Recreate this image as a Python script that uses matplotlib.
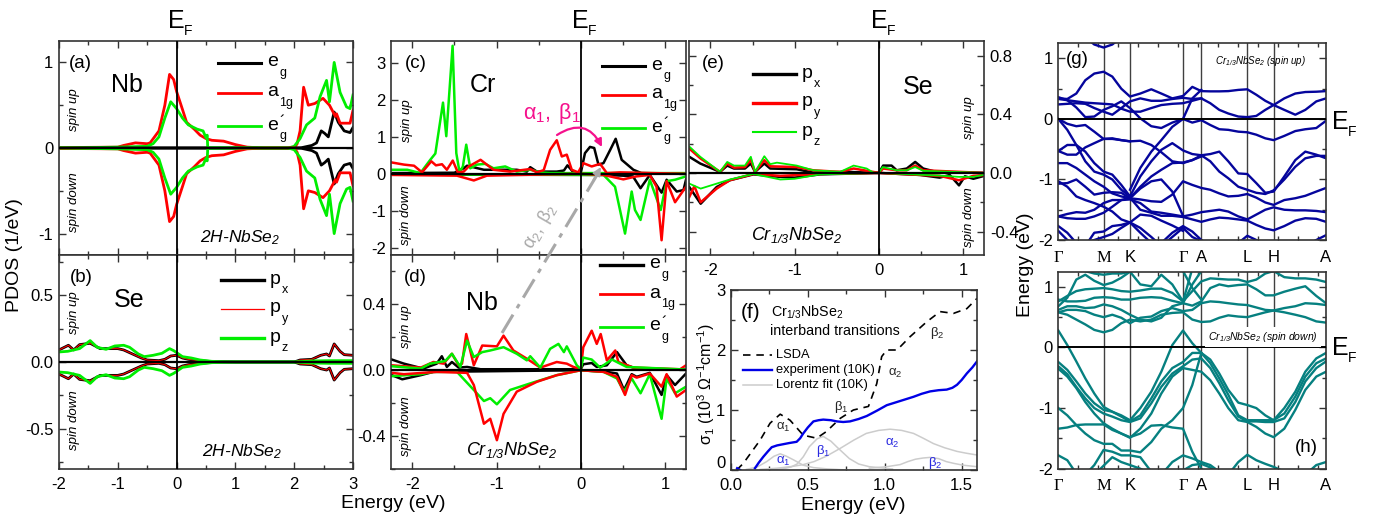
# -*- coding: utf-8 -*-
import matplotlib
matplotlib.use('Agg')
import matplotlib.pyplot as plt
from matplotlib.ticker import MultipleLocator, FixedLocator

plt.rcParams['font.family'] = ['Liberation Sans', 'DejaVu Sans']
plt.rcParams['mathtext.default'] = 'regular'
plt.rcParams['axes.unicode_minus'] = False
plt.rcParams['lines.solid_joinstyle'] = 'round'

W, H = 1374, 517
nan = float('nan')

# panel (a), 2H-NbSe2 Nb d states, spin down is the mirror of spin up
a_red_x = [-2, -1, -.9, -.7, -.5, -.45, -.3, -.2, -.12, -.05, 0, .1, .17, .3, .4, .5, .6, .8, 1, 1.2, 1.5, 2, 2.05, 2.1, 2.16, 2.24, 2.35, 2.49, 2.6, 2.7, 2.72, 2.78, 2.95, 3]
a_red_y = [.005, .01, .03, .06, .05, .06, .2, .5, .86, .8, .66, .45, .3, .22, .15, .11, .09, .08, .04, .01, 0, 0, .05, .2, .71, .5, .52, .58, .5, .37, .4, .29, .29, .44]
a_green_x = [-2, -1, -.5, -.4, -.3, -.2, -.1, 0, .1, .2, .35, .45, .5, .52, .53, 1, 1.9, 2, 2.1, 2.21, 2.35, 2.44, 2.55, 2.6, 2.68, 2.78, 2.89, 2.95, 3]
a_green_y = [0, .01, .02, .05, .13, .35, .54, .46, .35, .27, .22, .2, .12, .15, 0, 0, 0, .02, .11, .27, .35, .6, .79, .54, 1, .65, .48, .46, .62]
a_black_x = [-2, 2, 2.1, 2.3, 2.38, 2.46, 2.52, 2.58, 2.68, 2.75, 2.85, 2.95, 3]
a_black_y = [0, 0, 0, .03, .06, .2, .17, .13, .42, .3, .2, .18, .24]

# panel (b), 2H-NbSe2 Se p states
b_px_x = [-2, -1.84, -1.75, -1.65, -1.47, -1.3, -1.15, -1, -.9, -.75, -.6, -.5, -.3, -.2, -.1, 0, .1, .2, .4, .6, 1, 2, 2.1, 2.3, 2.45, 2.55, 2.6, 2.68, 2.78, 2.85, 3]
b_px_y = [.09, .125, .09, .13, .14, .1, .1, .1, .09, .06, .03, .015, .01, .02, .045, .05, .03, .02, .01, .003, 0, 0, .015, .02, .05, .06, .045, .135, .08, .055, .05]
b_pz_x = [-2, -1.85, -1.65, -1.47, -1.35, -1.2, -1.05, -.9, -.8, -.65, -.55, -.4, -.25, -.12, -.05, 0, .1, .25, .4, .6, 1, 2, 2.3, 2.6, 3]
b_pz_y = [.075, .08, .1, .16, .11, .095, .12, .125, .11, .06, .04, .05, .065, .1, .085, .07, .04, .03, .015, .005, 0, 0, .008, .01, .01]

# panel (c), Cr d states
c_up_green_x = [-2.25, -2.06, -1.905, -1.787, -1.727, -1.636, -1.597, -1.522, -1.478, -1.439, -1.4, -1.36, -1.312, -1.233, -1.134, -1.036, -.897, -.759, -.6, -.482, -.364, 0, 1.25]
c_up_green_y = [.11, .11, .02, .38, .55, 1.93, 1.02, 3.47, .56, .04, .2, .79, .15, .25, .27, .15, .2, .06, .11, .04, .02, .02, .02]
c_up_red_x = [-2.25, -2.1, -1.98, -1.885, -1.775, -1.72, -1.648, -1.59, -1.52, -1.46, -1.39, -1.33, -1.19, -1.036, -.84, -.6, -.52, -.44, -.364, -.285, -.225, -.166, -.107, -.03, .03, .13, .23, .31, .466, 1.25]
c_up_red_y = [.31, .25, .22, .04, .34, .23, .26, .11, .36, .04, .06, .2, .38, .11, .06, .13, .04, .1, .65, .91, .47, .52, .11, .04, .29, .2, .27, .02, .04, 0]
c_up_black_x = [-2.25, -1.5, -1.39, -1.35, -1.15, -.76, -.64, -.6, -.52, -.285, -.2, -.158, -.087, 0, .05, .11, .16, .21, .27, .35, .415, .486, .625, .72, 1.25]
c_up_black_y = [.02, .03, .15, .22, .11, .11, .06, .18, .06, .06, .09, .23, .04, .02, .56, .73, .7, .25, .29, .65, .95, .38, .11, .02, 0]
c_dn_black_x = [-2.25, .27, .5, .62, .71, .82, .96, 1.02, 1.14, 1.22, 1.25]
c_dn_black_y = [-.02, -.03, -.05, -.07, -.39, -.03, -.51, -.16, -.48, -.44, -.16]
c_dn_green_x = [-2.25, .27, .407, .526, .605, .644, .71, .82, .95, 1.02, 1.12, 1.25]
c_dn_green_y = [-.01, -.03, -.35, -1.62, -.48, -.98, -1.25, -.16, -.98, -.2, -.16, -.07]
c_dn_red_x = [-2.25, -1.47, -1.27, -1.115, -.5, 0, .27, .506, .66, .82, .9, .96, 1.02, 1.12, 1.25]
c_dn_red_y = [-.03, -.05, -.18, -.05, -.02, 0, -.03, -.15, -.07, -.03, -.35, -1.8, -.2, -.77, -.35]

# panel (d), Nb d states in Cr1/3NbSe2
d_up_black_x = [-2.245, -2.1, -1.87, -1.71, -1.65, -1.59, -1.53, -1.45, -1.35, -1.19, 0, .03, .13, .19, .31, .43, .545, .66, 1.25]
d_up_black_y = [.065, .04, .01, .04, .085, .02, .05, .016, .02, .006, .006, .036, .044, .02, .03, .11, .03, .01, .004]
d_up_red_x = [-2.245, -1.9, -1.75, -1.63, -1.53, -1.45, -1.41, -1.36, -1.27, -1.17, -.996, -.917, -.8, -.64, -.48, -.285, -.166, -.087, 0, .03, .13, .19, .237, .31, .41, .447, .625, 1.18, 1.25]
d_up_red_y = [.03, .016, .05, .04, .1, .03, .04, .22, .03, .15, .145, .21, .12, .07, .016, .05, .04, .02, .006, .14, .24, .16, .22, .06, .12, .05, .016, .006, .03]
d_up_green_x = [-2.245, -1.9, -1.79, -1.61, -1.53, -1.43, -1.35, -1.27, -1.17, -1.075, -.917, -.76, -.64, -.6, -.48, -.364, -.265, -.2, -.166, -.047, 0, .03, .13, .23, .37, .545, 1.25]
d_up_green_y = [.024, .01, .04, .056, .1, .02, .18, .08, .11, .12, .14, .1, .06, .085, .016, .13, .16, .11, .145, .03, .006, .077, .065, .016, .065, .02, .004]
d_dn_black_x = [-2.245, -2.12, -1.9, -1.75, 0, .31, .43, .514, .605, .664, .82, .96, 1.02, 1.12, 1.25]
d_dn_black_y = [-.03, -.055, -.03, -.01, 0, -.01, -.02, -.12, -.024, -.04, -.016, -.15, -.03, -.09, -.02]
d_dn_green_x = [-2.245, -1.9, -1.75, -1.47, -1.27, -1.15, -1.075, -.996, -.84, -.6, -.285, 0, .27, .43, .514, .605, .71, .82, .96, 1.02, 1.12, 1.25]
d_dn_green_y = [-.036, -.024, -.01, -.01, -.12, -.187, -.17, -.207, -.12, -.08, -.03, 0, -.01, -.05, -.13, -.05, -.14, -.024, -.295, -.05, -.14, -.1]
d_dn_red_x = [-2.245, -2.1, -1.71, -1.35, -1.27, -1.15, -1.075, -.996, -.917, -.76, -.52, -.285, 0, .27, .43, .526, .605, .664, .82, .96, 1.02, 1.14, 1.25]
d_dn_red_y = [-.016, -.024, -.01, -.016, -.09, -.325, -.295, -.425, -.265, -.13, -.07, -.03, 0, -.01, -.04, -.15, -.03, -.045, -.02, -.1, -.024, -.16, -.12]

# panel (e), Se p states in Cr1/3NbSe2
e_up_px_x = [-2.25, -2.12, -1.885, -1.8, -1.72, -1.59, -1.52, -1.47, -1.36, -1.29, -.976, -.78, -.38, 0, .05, .15, .21, .33, .43, .525, .68, 1.25]
e_up_px_y = [.11, .064, .007, .05, .03, .03, .064, .007, .064, .03, .025, .002, .007, 0, .05, .05, .018, .03, .075, .03, .007, 0]
e_up_py_x = [-2.25, -2.12, -1.885, -1.8, -1.72, -1.59, -1.52, -1.47, -1.36, -1.29, -.976, -.78, -.46, -.3, 0, .05, .21, .33, .43, .525, 1.25]
e_up_py_y = [.166, .1, .007, .064, .036, .04, .09, .007, .087, .045, .04, .018, .007, .03, 0, .03, .018, .018, .05, .018, 0]
e_up_pz_x = [-2.25, -2.12, -1.885, -1.8, -1.72, -1.59, -1.52, -1.47, -1.36, -1.29, -1.21, -.976, -.78, -.46, -.3, -.146, -.067, 0, .045, .21, .33, .43, .525, 1.25]
e_up_pz_y = [.18, .11, .007, .075, .05, .05, .11, .007, .114, .06, .07, .05, .018, .007, .05, .03, .002, 0, .04, .018, .018, .04, .014, 0]
e_dn_px_x = [-2.25, -2.115, -1.925, -1.77, -1.49, -1.17, -1, -.7, 0, .49, .72, .84, .95, 1.02, 1.12, 1.25]
e_dn_px_y = [-.096, -.21, -.096, -.05, -.01, -.027, -.032, -.01, 0, -.014, -.032, -.014, -.085, -.023, -.04, -.02]
e_dn_py_x = [-2.25, -2.19, -2.115, -1.925, -1.77, -1.49, -1.17, -.7, 0, .72, .95, 1.12, 1.25]
e_dn_py_y = [-.164, -.09, -.2, -.107, -.05, -.007, -.02, -.007, 0, -.02, -.05, -.02, -.015]
e_dn_pz_x = [-2.25, -2.115, -1.925, -1.77, -1.49, -1.17, -1, -.7, 0, .72, .95, 1.12, 1.25]
e_dn_pz_y = [-.073, -.107, -.073, -.045, -.007, -.045, -.04, -.01, 0, -.018, -.027, -.027, -.012]

# panel (f), optical conductivity
f_lsda_x = [.037, .08, .19, .254, .32, .384, .47, .557, .62, .71, .796, .894, .948, .98, 1.013, 1.08, 1.164, 1.273, 1.36, 1.447, 1.534, 1.6]
f_lsda_y = [0, .11, .5, .78, .93, .83, .58, .53, .64, .86, 1, 1.06, 1.44, 1.89, 2, 2, 2.22, 2.47, 2.64, 2.61, 2.69, 2.86]
f_exp_x = [.04, .06, nan, .156, .18, .21, .24, .265, .3, .34, .38, .427, .45, .47, .5, .536, .57, .6, .65, .688, .73, .774, .83, .883, .95, 1.013, 1.1, 1.187, 1.24, 1.295, 1.35, 1.403, 1.44, 1.47, 1.5, 1.534, 1.57, 1.6]
f_exp_y = [.03, 0, nan, .03, .12, .22, .31, .38, .41, .43, .45, .47, .53, .61, .71, .81, .83, .84, .83, .81, .8, .81, .85, .9, .99, 1.08, 1.15, 1.22, 1.27, 1.31, 1.33, 1.34, 1.37, 1.42, 1.5, 1.61, 1.71, 1.81]
f_lor1_x = [.1, .17, .232, .28, .32, .36, .406, .47, .536, .62, .75]
f_lor1_y = [.01, .05, .14, .23, .27, .23, .17, .08, .04, .02, 0]
f_lor2_x = [.25, .34, .39, .43, .47, .51, .56, .6, .65, .69, .77, .83, .9, 1.05]
f_lor2_y = [.005, .02, .05, .1, .22, .39, .52, .56, .48, .38, .19, .1, .055, .016]
f_lor3_x = [.19, .3, .4, .47, .54, .62, .71, .8, .88, .96, 1.035, 1.11, 1.187, 1.25, 1.317, 1.39, 1.47, 1.53, 1.6]
f_lor3_y = [.01, .03, .06, .09, .14, .23, .36, .5, .61, .66, .68, .66, .61, .53, .44, .37, .31, .28, .25]
f_lor4_x = [.9, 1.013, 1.1, 1.15, 1.2, 1.25, 1.295, 1.35, 1.4, 1.45, 1.51, 1.6]
f_lor4_y = [.03, .055, .09, .14, .18, .2, .21, .19, .14, .11, .08, .055]

# band structure: k path in plotted units, energies in eV on the same grid
k_ticks = [0, .453, .717, 1.247, 1.43, 1.89, 2.153, 2.677]
k_names = ['Γ', 'M', 'K', 'Γ', 'A', 'L', 'H', 'A']
k_grid = [0, .09, .18, .27, .36, .453, .54, .63, .717, .82, .93, 1.03, 1.14, 1.247, 1.34, 1.43,
          1.52, 1.61, 1.7, 1.8, 1.89, 1.98, 2.07, 2.153, 2.26, 2.37, 2.47, 2.58, 2.677]

bands_up = [
    [nan, nan, nan, 1.35, 1.23, 1.18, 1.23, 1.35],
    [.34, .33, .42, .64, .75, .78, .7, .5, .37, .42, .49, .42, .34, .38, .53, .46, .456, .456, .46, .48, .49, .4, .3, .23, .34, .42, .445, .45, .46],
    [.33, .31, .29, .27, .26, .25, .24, .17, .12, .12, .18, .23, .25, .26, .3, .34, .26, .15, .09, .04, .03, .05, .15, .23, .15, .07, .15, .29, .34],
    [.24, .25, .26, .25, .18, .12, .07, .18, .29, .34, .3, .3, .33, .35, .33, .34],
    [.36, .31, .19, .03, .04, .15, .21, .29, .18, .01, -.12, -.15, -.06, 0, -.06, -.02, -.1, -.17, -.18, -.21, -.22, -.26, -.32, -.35, -.28, -.2, -.17, -.15, -.03],
    [0, -.08, -.12, -.1, -.21, -.33, -.32, -.35, -.37, -.36, -.43, -.55, -.7, -.73, -.68, -.6, -.58, -.54, -.7, -.9, -.91, -1.06, -1.22, -1.2, -.95, -.68, -.54, -.59, -.65],
    [-.53, -.59, -.59, -.47, -.4, -.33, -.33, -.35, -.37],
    [0, -.18, -.43, -.7, -.87, -.92, -1, -1.17, -1.28, -.95, -.7, -.51, -.4, -.52, -.58, -.6, -.7, -.87, -.98, -1.12, -1.17, -1.22, -1.24, -1.18, -1, -.79, -.65, -.61, -.61],
    [nan, nan, nan, nan, nan, nan, nan, nan, -1.17, -.81, -.54, -.35, -.13, 0, .34, .48],
    [-.53, -.43, -.43, -.54, -.73, -.87, -.92, -1.09, -1.28],
    [-.73, -.73, -.81, -.92, -1.03, -1.12, -1.23, -1.28, -1.31, -1.12, -.95, -.84, -.73, -.72, -.68, -.62],
    [-1.03, -1.12, -1.28, -1.34, -1.39, -1.45, -1.53, -1.66, -1.71, -1.58, -1.6, -1.68, -1.76, -1.85],
    [-1.07, -1.06, -1, -1.12, -1.25, -1.22, -1.21, -1.22, -1.31, -1.33, -1.36, -1.37, -1.25, -1.03, -1.09, -1.14, -1.17, -1.23, -1.28, -1.27, -1.24, -1.3, -1.38, -1.42, -1.34, -1.31, -1.27, -1.2, -1.14],
    [nan, nan, nan, nan, nan, nan, nan, nan, -1.31, -1.15, -1.03, -1, -1.2, -1.6],
    [-1.61, -1.57, -1.54, -1.55, -1.5, -1.39, -1.34, -1.34, -1.33, -1.39, -1.53, -1.55, -1.58, -1.61, -1.58, -1.54, -1.52, -1.5, -1.53, -1.61, -1.66, -1.58, -1.5, -1.46, -1.5, -1.51, -1.51, -1.52, -1.54],
    [-1.61, -1.64, -1.65, -1.65, -1.61, -1.55, -1.45, -1.34, -1.3, -1.5, -1.55, -1.6, -1.6, -1.62, -1.66, -1.7, -1.66, -1.63, -1.64, -1.66, -1.68, -1.75, -1.81, -1.84, -1.77, -1.68, -1.64, -1.65, -1.7],
    [-1.77, -1.88, -2.05, -2.1, -1.88, -1.86, -1.77, -1.75, -1.71, -1.88, -2.05, -2.05, -1.88, -1.77, -1.86, -2, -2.1, -2.1, -2.1, -2.05, -1.93, -2, -2.1, -2.1, -2.1, -2.1, -2.1, -2, -1.92],
    [-1.85, -2, -2.1, -2.05, -2, -1.95, -1.9, -1.8, -1.71, -1.8, -1.95, -2.1, -1.95, -1.8, -1.95, -2.02],
]

bands_dn = [
    [.58, .54, .46, .38, .29, .25, .29, .4, .46, .43, .46, .54, .57, .58, .46, .42, .43, .49, .53, .51, .5, .54, .58, .61, .58, .54, .5, .43, .41],
    [.58, .62, .62, .6, .54, .5, .54, .49, .4, .49, .51, .6, .65, .6, .62, .73, .76, .75, .73, .71, .7, .66, .62, .61, .65, .68, .73, .72, .7],
    [.62, .68, .68, .65, .66, .71, .68, .62, .54, .46, .43, .49, .68, .73, .69, .76, .98, 1.04, 1.01, 1.03, 1.04, .96, .86, .86, .92, .97, 1.01, .85, .73],
    [.76, .85, .93, .96, .97, .98, .96, .93, .92, .94, .97, .97, .9, .76, .93, 1.09, 1.14, 1.13, 1.12, 1.12, 1.08, 1.12, 1.22, 1.26, 1.16, 1.14, 1.14, 1.12, 1.08],
    [.79, .76, .76, .77, .82, .83, .82, .79, .79, .82, .83, .82, .77, .73, 1.04, 1.26],
    [.68, .82, 1.12, 1.2, 1.1, 1.03, 1.07, 1.15, 1.25, 1.04, 1.01, 1.2, 1.04, .76, 1.3],
    [nan, nan, 1.3, 1.26, 1.22, 1.2, 1.22, 1.22, 1.25],
    [nan, nan, nan, nan, nan, nan, nan, nan, nan, nan, nan, nan, nan, 1.26, .98, .79],
    [.28, .04, -.23, -.51, -.76, -.98, -1.06, -1.12, -1.2, -1, -.73, -.4, .04, .28, .07, -.09, -.2, -.43, -.7, -.91, -.95, -1, -1.12, -1.2, -1, -.73, -.4, -.18, -.09],
    [-.24, -.37, -.56, -.76, -.92, -1.03, -1.06, -1.14, -1.22, -1.12, -.84, -.56, -.34, -.24, -.09, -.09, -.26, -.51, -.78, -1.12, -1.2, -1.2, -1.2, -1.2, -1.09, -.81, -.48, -.26, -.18],
    [-.31, -.44, -.65, -.84, -1, -1.09, -1.14, -1.2, -1.23, -1.17, -.92, -.65, -.43, -.31, -.2, -.18, -.34, -.59, -.87, -1.14, -1.22, -1.22, -1.23, -1.23, -1.17, -.9, -.56, -.34, -.23],
    [-.35, -.48, -.67, -.9, -1.09, -1.25, -1.34, -1.42, -1.49, -1.34, -1.09, -.76, -.48, -.34, -.37, -.4, -.54, -.76, -1, -1.2, -1.23, -1.31, -1.42, -1.48, -1.34, -1.03, -.7, -.48, -.4],
    [-1.34, -1.32, -1.28, -1.27, -1.27, -1.27, -1.36, -1.42, -1.48, -1.42, -1.29, -1.28, -1.32, -1.34, -1.72, -2],
    [-1, -1.12, -1.28, -1.42, -1.53, -1.59, -1.59, -1.7, -1.7, -1.73, -1.56, -1.34, -1.2, -1, -.62, -.09],
    [-1.78, -1.86, -2.08, -2.1, -1.94, -1.69, -1.72, -1.78, -1.78, -1.81, -2.05, -2.1, -1.89, -1.78, -1.83, -1.89, -1.94, -2.05, -2.1, -1.89, -1.77, -1.86, -1.92, -1.97, -2.05, -2.1, -2.1, -1.94, -1.89],
    [nan, nan, nan, nan, -2.1, -1.95, -1.81, -1.89, -1.94, -2, -2.1, -2.1, -2.05, -2.03, -1.94, -1.92, -1.98, -2.1],
]

BLACK, RED, GREEN = 'black', '#ff0000', '#00ee00'


def new_ax(left, top, right, bottom):
    return fig.add_axes([left / W, 1 - bottom / H, (right - left) / W, (bottom - top) / H])


def style(ax, xlim, ylim, xmaj, xmin, ymaj, ymin=None):
    ax.set_xlim(xlim)
    ax.set_ylim(ylim)
    ax.xaxis.set_major_locator(MultipleLocator(xmaj))
    ax.xaxis.set_minor_locator(MultipleLocator(xmin))
    ax.yaxis.set_major_locator(FixedLocator(ymaj))
    if ymin is not None:
        ax.yaxis.set_minor_locator(MultipleLocator(ymin))
    ax.tick_params(which='both', direction='in', top=True, right=True, color='0.2', width=1, labelsize=12, pad=4)
    ax.tick_params(axis='x', which='major', pad=6)
    ax.tick_params(which='major', length=5)
    ax.tick_params(which='minor', length=3)
    for sp in ax.spines.values():
        sp.set_linewidth(1.2)
        sp.set_color('0.2')


def ef_lines(ax):
    ax.axvline(0, color='black', lw=1.3, zorder=6)
    ax.axhline(0, color='black', lw=1.6, zorder=6)


fig = plt.figure(figsize=(W / 100, H / 100), dpi=100)

# (a)
ax_a = new_ax(59, 41, 353, 255)
style(ax_a, (-2, 3), (-1.25, 1.25), 1, .5, [-1, 0, 1], .5)
ax_a.set_xticklabels([])
ax_a.set_yticklabels(['-1', '0', '1'])
for s in (1, -1):
    ax_a.plot(a_black_x, [s * v for v in a_black_y], color=BLACK, lw=2)
    ax_a.plot(a_red_x, [s * v for v in a_red_y], color=RED, lw=2)
    ax_a.plot(a_green_x, [s * v for v in a_green_y], color=GREEN, lw=2)
ef_lines(ax_a)

# (b)
ax_b = new_ax(59, 255, 353, 469)
style(ax_b, (-2, 3), (-.8, .8), 1, .5, [-.5, 0, .5], .25)
ax_b.set_yticklabels(['-0.5', '0.0', '0.5'])
for s in (1, -1):
    ax_b.plot(b_px_x, [s * v for v in b_px_y], color=BLACK, lw=2)
    ax_b.plot(b_px_x, [s * v for v in b_px_y], color=RED, lw=.8)
    ax_b.plot(b_pz_x, [s * v for v in b_pz_y], color=GREEN, lw=2)
ef_lines(ax_b)

# (c)
ax_c = new_ax(391.3, 41, 686, 255)
style(ax_c, (-2.25, 1.25), (-2.2, 3.6), 1, .5, [-2, -1, 0, 1, 2, 3])
ax_c.set_xticklabels([])
ax_c.set_yticklabels(['-2', '-1', '0', '1', '2', '3'])
ax_c.plot(c_up_black_x, c_up_black_y, color=BLACK, lw=1.8)
ax_c.plot(c_up_green_x, c_up_green_y, color=GREEN, lw=1.8)
ax_c.plot(c_up_red_x, c_up_red_y, color=RED, lw=1.8)
ax_c.plot(c_dn_black_x, c_dn_black_y, color=BLACK, lw=1.8)
ax_c.plot(c_dn_green_x, c_dn_green_y, color=GREEN, lw=1.8)
ax_c.plot(c_dn_red_x, c_dn_red_y, color=RED, lw=1.8)
ef_lines(ax_c)

# (d)
ax_d = new_ax(391.3, 255, 686, 469)
style(ax_d, (-2.25, 1.25), (-.6, .7), 1, .5, [-.4, 0, .4], .2)
ax_d.set_yticklabels(['-0.4', '0.0', '0.4'])
ax_d.plot(d_up_black_x, d_up_black_y, color=BLACK, lw=1.8)
ax_d.plot(d_dn_black_x, d_dn_black_y, color=BLACK, lw=1.8)
ax_d.plot(d_up_red_x, d_up_red_y, color=RED, lw=1.8)
ax_d.plot(d_up_green_x, d_up_green_y, color=GREEN, lw=1.8)
ax_d.plot(d_dn_green_x, d_dn_green_y, color=GREEN, lw=1.8)
ax_d.plot(d_dn_red_x, d_dn_red_y, color=RED, lw=1.8)
ef_lines(ax_d)

# (e)
ax_e = new_ax(689.3, 41, 984.3, 255)
style(ax_e, (-2.25, 1.25), (-.56, .9), 1, .5, [-.4, 0, .4, .8], .2)
ax_e.yaxis.tick_right()
ax_e.tick_params(which='both', left=True, right=True)
ax_e.set_yticklabels(['-0.4', '0.0', '0.4', '0.8'])
ax_e.plot(e_up_px_x, e_up_px_y, color=BLACK, lw=1.8)
ax_e.plot(e_dn_px_x, e_dn_px_y, color=BLACK, lw=1.8)
ax_e.plot(e_up_py_x, e_up_py_y, color=RED, lw=1.8)
ax_e.plot(e_dn_py_x, e_dn_py_y, color=RED, lw=1.8)
ax_e.plot(e_up_pz_x, e_up_pz_y, color=GREEN, lw=1.3)
ax_e.plot(e_dn_pz_x, e_dn_pz_y, color=GREEN, lw=1.3)
ef_lines(ax_e)

# (f)
ax_f = new_ax(731, 290, 977, 470)
style(ax_f, (0, 1.6), (0, 3), .5, .25, [0, 1, 2, 3], .5)
ax_f.set_yticklabels(['', '1', '2', '3'])
ax_f.xaxis.set_major_formatter('{x:.1f}')
for lx, ly in ((f_lor1_x, f_lor1_y), (f_lor2_x, f_lor2_y), (f_lor3_x, f_lor3_y), (f_lor4_x, f_lor4_y)):
    ax_f.plot(lx, ly, color='0.8', lw=1.1)
ax_f.plot(f_lsda_x, f_lsda_y, color='black', lw=1.2, dashes=(4.5, 3.5))
ax_f.plot(f_exp_x, f_exp_y, color='#0000e6', lw=1.7)

# (g) and (h)
for top, bottom, bands, colour in ((43.3, 240, bands_up, '#05059c'), (271.7, 468.7, bands_dn, '#068080')):
    ax = new_ax(1058.3, top, 1326, bottom)
    style(ax, (0, 2.677), (-2, 1.25), .2, .2, [-2, -1, 0, 1], .5)
    ax.set_xticks(k_ticks)
    ax.set_xticklabels(k_names)
    ax.tick_params(axis='x', which='major', length=0, pad=7)
    ax.set_yticklabels(['-2', '-1', '0', '1'])
    for lab, name in zip(ax.get_xticklabels(), k_names):
        if name in ('Γ', 'M'):
            lab.set_fontfamily('Liberation Serif')
    for k in k_ticks[1:-1]:
        ax.axvline(k, color='0.25', lw=1)
    for b in bands:
        ax.plot(k_grid[:len(b)], b, color=colour, lw=1.7)
    ax.axhline(0, color='black', lw=1.4, zorder=6)

# everything that is placed by hand goes on a pixel overlay
ov = fig.add_axes([0, 0, 1, 1], facecolor='none')
ov.set_xlim(0, W)
ov.set_ylim(H, 0)
ov.axis('off')


def put(x, y, s, size=13, **kw):
    kw.setdefault('ha', 'center')
    kw.setdefault('va', 'center')
    ov.text(x, y, s, fontsize=size, **kw)


def ef_label(x, y):
    put(x, y, 'E', 18)
    put(x + 12, y + 10, 'F', 10)


def legend(x0, x1, ys, labels, colours, widths):
    # labels are (letter, subscript, primed)
    for y, (main, sub, primed), c, w in zip(ys, labels, colours, widths):
        ov.plot([x0, x1], [y, y], color=c, lw=w)
        put(x1 + 6, y - 1, main, 14, ha='left')
        put(x1 + 18, y + 10, sub, 9, ha='left')
        if primed:
            put(x1 + 18, y + 1, '´', 12, ha='left', va='baseline')


EG = ('e', 'g', False)
A1G = ('a', '1g', False)
EGP = ('e', 'g', True)
PX, PY, PZ = ('p', 'x', False), ('p', 'y', False), ('p', 'z', False)
DCOL = [BLACK, RED, GREEN]

for x in (176, 580, 879):
    ef_label(x, 21)
ef_label(1340, 122)
ef_label(1340, 348)

put(15, 255, 'PDOS (1/eV)', 14, rotation=90)
put(393, 504, 'Energy (eV)', 14)
put(853, 505, 'Energy (eV)', 14)
put(1025, 265, 'Energy (eV)', 14, rotation=90)
put(706, 384, r'$\sigma_{1}$ (10$^{3}$ $\Omega^{-1}$cm$^{-1}$)', 11.5, rotation=90)
put(721, 463, '0', 12)

for x, y, s in ((80, 63, '(a)'), (81, 277, '(b)'), (416, 63, '(c)'), (415, 277, '(d)'), (713, 63, '(e)'),
                (1077, 59, '(g)'), (1306, 447, '(h)')):
    put(x, y, s, 13.5)
put(751, 313, '(f)', 15)

for x, y, s in ((127, 85, 'Nb'), (129, 300, 'Se'), (483, 85, 'Cr'), (482, 303, 'Nb'), (918, 87, 'Se')):
    put(x, y, s, 18)

for x, y, s in ((74, 110, 'spin up'), (74, 202, 'spin down'), (74, 313, 'spin up'), (74, 420, 'spin down'),
                (407, 121, 'spin up'), (406, 215, 'spin down'), (406, 327, 'spin up'), (406, 426, 'spin down'),
                (969, 118, 'spin up'), (969, 217, 'spin down')):
    put(x, y, s, 9.5, rotation=90, style='italic')

put(240, 238, '2H-NbSe$_{2}$', 12.5, style='italic')
put(242, 452, '2H-NbSe$_{2}$', 12.5, style='italic')
put(512, 450, 'Cr$_{1/3}$NbSe$_{2}$', 13, style='italic')
put(797, 235, 'Cr$_{1/3}$NbSe$_{2}$', 13, style='italic')
put(1260, 61, 'Cr$_{1/3}$NbSe$_{2}$ (spin up)', 7, style='italic')
put(1263, 337, 'Cr$_{1/3}$NbSe$_{2}$ (spin down)', 7.5, style='italic',
    bbox=dict(facecolor='white', edgecolor='none', pad=2.5))

legend(218, 261, (63, 93, 126), (EG, A1G, EGP), DCOL, (2.2, 2, 2))
legend(221, 264, (280, 309, 338), (PX, PY, PZ), DCOL, (2.4, .9, 2.4))
legend(602, 645, (66, 95, 128), (EG, A1G, EGP), DCOL, (2.2, 2, 2))
legend(600, 643, (265, 294, 327), (EG, A1G, EGP), DCOL, (2.4, 2, 2))
legend(753, 796, (74, 103, 132), (PX, PY, PZ), DCOL, (2.4, 2.4, 1.5))

ov.plot([743, 772], [355, 355], color='black', lw=1.2, dashes=(4.5, 3.5))
ov.plot([743, 772], [370, 370], color='#0000e6', lw=1.7)
ov.plot([743, 772], [385, 385], color='0.8', lw=1.1)
put(776, 355, 'LSDA', 9.3, ha='left')
put(776, 370, 'experiment (10K)', 9.3, ha='left')
put(776, 385, 'Lorentz fit (10K)', 9.3, ha='left')
put(807, 312, 'Cr$_{1/3}$NbSe$_{2}$', 10.3)
put(835, 331, 'interband transitions', 10.3)

for x, y, s in ((841, 407, r'$\beta_{1}$'), (783, 427, r'$\alpha_{1}$'), (895, 373, r'$\alpha_{2}$'), (937, 333, r'$\beta_{2}$')):
    put(x, y, s, 9.5, color='0.15', math_fontfamily='stix')
for x, y, s in ((783, 461, r'$\alpha_{1}$'), (823, 451, r'$\beta_{1}$'), (892, 443, r'$\alpha_{2}$'), (935, 463, r'$\beta_{2}$')):
    put(x, y, s, 9.5, color='#2a2ae0', math_fontfamily='stix')

# transition arrows and their labels
PINK = '#f5108c'
put(552, 113, r'$\alpha_{1},\ \beta_{1}$', 15.5, color=PINK, math_fontfamily='stix')
ov.annotate('', xy=(602, 147), xytext=(557, 135),
            arrowprops=dict(arrowstyle='-|>', color=PINK, lw=1.6, connectionstyle='arc3,rad=-0.55',
                            mutation_scale=11, shrinkA=0, shrinkB=0))
ov.plot([502, 597], [333, 175], color='#a8a8a8', lw=2.2, dashes=(7, 2.5, 1.5, 2.5))
ov.annotate('', xy=(601, 167), xytext=(593, 181),
            arrowprops=dict(arrowstyle='-|>', color='#a8a8a8', lw=1.5, mutation_scale=12, shrinkA=0, shrinkB=0))
put(540, 227, r'$\alpha_{2},\ \beta_{2}$', 13, color='#a8a8a8', rotation=60, math_fontfamily='stix')

fig.savefig('out.png', dpi=100)
